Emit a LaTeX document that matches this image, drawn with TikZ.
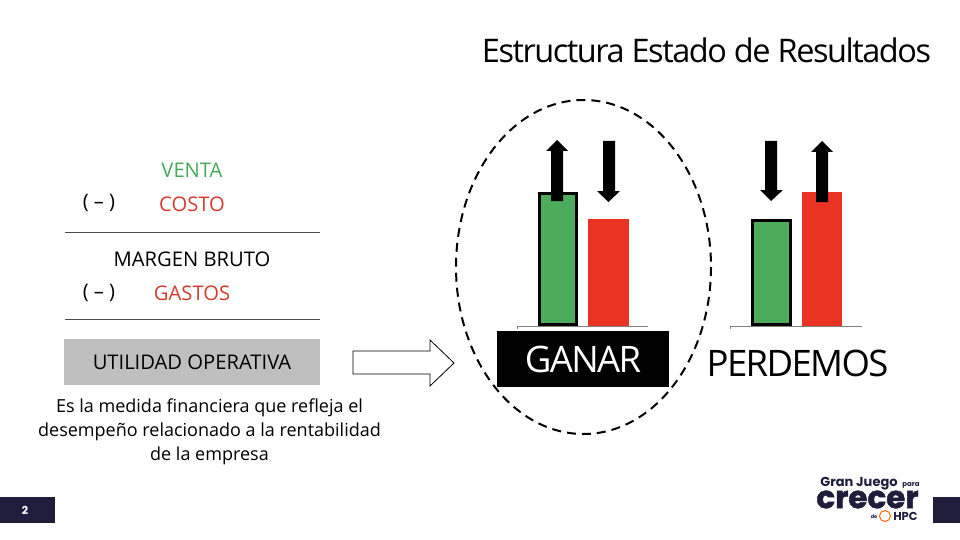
\documentclass[tikz,border=0pt]{standalone}
\usepackage{fontspec}
\setmainfont{Open Sans}
\newfontfamily\apretada[LetterSpace=-4.5]{Open Sans}
\newfontfamily\logofont{Poppins}
\newfontfamily\logogrueso[FakeBold=1.5]{Poppins}
\usetikzlibrary{positioning}
\definecolor{barverde}{HTML}{4CAC5C}
\definecolor{barrojo}{HTML}{EA3323}
\definecolor{txtverde}{HTML}{45A85A}
\definecolor{txtrojo}{HTML}{D33C2F}
\definecolor{marino}{HTML}{1E1E3C}
\tikzset{
    etiqueta/.style={inner sep=0pt,font=\fontsize{20.2}{24}\selectfont},
    signo/.style={inner sep=0pt,font=\fontsize{20}{24}\selectfont},
    letrero/.style={inner sep=0pt,font=\apretada\fontsize{36.5}{40}\selectfont},
    raya/.style={draw=black!70,line width=1pt},
    base/.style={draw=black!50,line width=0.8pt},
    verde/.style={fill=barverde,draw=black,line width=3pt},
    rojo/.style={fill=barrojo},
    marca/.style={fill=marino},
    logo/.style={inner sep=0pt,text=marino}
}
\begin{document}
\begin{tikzpicture}[x=1pt,y=-1pt]
    \useasboundingbox (0,0) rectangle (960,540);
    \node[inner sep=0pt,font=\apretada\fontsize{32.5}{36}\selectfont] (titulo) at (706.5,50) {Estructura Estado de Resultados};
    % izquierda
    \node[etiqueta,text=txtverde] (venta) at (192,170) {VENTA};
    \node[etiqueta,text=txtrojo] (costo) at (192,204) {COSTO};
    \node[signo] (menos1) at (99,203) {( – )};
    \draw[raya] (65,232) -- (320,232);
    \node[etiqueta] (margen) at (192,259) {MARGEN BRUTO};
    \node[etiqueta,text=txtrojo] (gastos) at (192,293.5) {GASTOS};
    \node[signo] (menos2) at (99,292.5) {( – )};
    \draw[raya] (65,319.5) -- (320,319.5);
    \node[etiqueta,fill=black!25,minimum width=256pt,minimum height=46pt] (utilidad) at (192,362) {UTILIDAD OPERATIVA};
    \node[inner sep=0pt,align=center,font=\fontsize{18}{24.2}\selectfont] (medida) at (209.5,432) {Es la medida financiera que refleja el\\desempeño relacionado a la rentabilidad\\de la empresa};
    \draw[line width=0.8pt] (353,351) -- (430,351) -- (430,340) -- (454,363) -- (430,386) -- (430,374) -- (353,374) -- cycle;
    % ganar
    \draw[dashed,dash pattern=on 9pt off 6pt,line width=2pt] (583.5,267) ellipse (127.5 and 167);
    \draw[base] (517,329) -- (517,326) -- (648,326);
    \draw[verde] (539.5,193.5) rectangle (576.5,324.5);
    \fill[rojo] (588,219) rectangle (629,326);
    \fill (551,201) -- (551,151) -- (546,151) -- (557,140) -- (568,151) -- (563,151) -- (563,201) -- cycle;
    \fill (603,141) -- (603,191) -- (597,191) -- (608.5,202) -- (620,191) -- (615,191) -- (615,141) -- cycle;
    \node[letrero,fill=black,text=white,text height=28pt,minimum width=172pt,minimum height=56pt] (ganar) at (583,359) {GANAR};
    % perdemos
    \draw[base] (730,329) -- (730,326) -- (862,326);
    \draw[verde] (752.5,220.5) rectangle (790.5,324.5);
    \fill[rojo] (802,192) rectangle (842,326);
    \fill (765,141) -- (765,190) -- (760,190) -- (771,201) -- (783,190) -- (777,190) -- (777,141) -- cycle;
    \fill (816,202) -- (816,152) -- (811,152) -- (822,141) -- (833,152) -- (828,152) -- (828,202) -- cycle;
    \node[letrero] (perdemos) at (797.5,363) {PERDEMOS};
    % pie
    \fill[marca] (0,497) rectangle (55,523);
    \fill[marca] (933,497) rectangle (960,523);
    \node[inner sep=0pt,text=white,font=\logofont\bfseries\fontsize{11}{12}\selectfont] (pagina) at (25,510) {2};
    \node[logo,font=\logofont\bfseries\fontsize{13}{14}\selectfont] (gran) at (859,483.5) {Gran Juego};
    \node[logo,font=\logofont\bfseries\fontsize{7}{8}\selectfont] (para) at (911,485) {para};
    \node[logo,font=\logogrueso\bfseries\fontsize{31}{32}\selectfont] (crecer) at (867.5,499.5) {crecer};
    \node[logo,font=\logofont\bfseries\fontsize{5}{6}\selectfont] (de) at (874,516.5) {de};
    \draw[orange!80!red,line width=1pt] (885,516) circle (5.5);
    \node[logo,font=\logofont\bfseries\fontsize{11.5}{13}\selectfont] (hpc) at (905.5,516.5) {HPC};
\end{tikzpicture}
\end{document}
